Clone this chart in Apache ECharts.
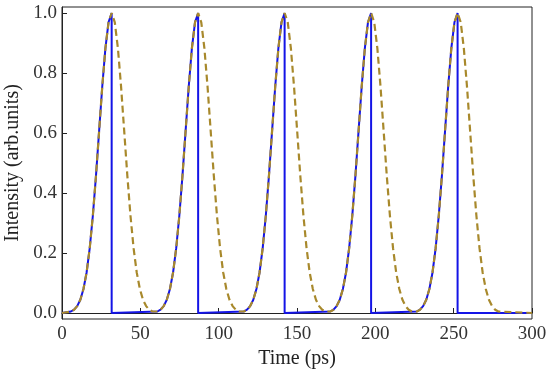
<!DOCTYPE html>
<html>
<head>
<meta charset="utf-8">
<script src="https://cdn.jsdelivr.net/npm/echarts@6/dist/echarts.min.js"></script>
<style>html,body{margin:0;padding:0;background:#fff}#c{width:550px;height:372px}</style>
</head>
<body>
<div id="c"></div>
<script>
// Dashed curve (full pulses)
var dashedTime = [0,
  5.7,7.7,9.7,11.7,13.7,15.7,17.7,19.7,21.7,23.7,25.7,27.7,29.7,31.7,33.7,35.7,37.7,39.7,41.7,43.7,45.7,47.7,49.7,51.7,53.7,55.7,57.7,
  60.9,62.9,64.9,66.9,68.9,70.9,72.9,74.9,76.9,78.9,80.9,82.9,84.9,86.9,88.9,90.9,92.9,94.9,96.9,98.9,100.9,102.9,104.9,106.9,108.9,110.9,112.9,
  116.1,118.1,120.1,122.1,124.1,126.1,128.1,130.1,132.1,134.1,136.1,138.1,140.1,142.1,144.1,146.1,148.1,150.1,152.1,154.1,156.1,158.1,160.1,162.1,164.1,166.1,168.1,
  171.3,173.3,175.3,177.3,179.3,181.3,183.3,185.3,187.3,189.3,191.3,193.3,195.3,197.3,199.3,201.3,203.3,205.3,207.3,209.3,211.3,213.3,215.3,217.3,219.3,221.3,223.3,
  226.5,228.5,230.5,232.5,234.5,236.5,238.5,240.5,242.5,244.5,246.5,248.5,250.5,252.5,254.5,256.5,258.5,260.5,262.5,264.5,266.5,268.5,270.5,272.5,274.5,276.5,278.5,
  300];
var dashedIntensity = [0,
  0.005,0.011,0.023,0.044,0.080,0.135,0.216,0.325,0.458,0.607,0.755,0.882,0.969,1,0.969,0.882,0.755,0.607,0.458,0.325,0.216,0.135,0.080,0.044,0.023,0.011,0.005,
  0.005,0.011,0.023,0.044,0.080,0.135,0.216,0.325,0.458,0.607,0.755,0.882,0.969,1,0.969,0.882,0.755,0.607,0.458,0.325,0.216,0.135,0.080,0.044,0.023,0.011,0.005,
  0.005,0.011,0.023,0.044,0.080,0.135,0.216,0.325,0.458,0.607,0.755,0.882,0.969,1,0.969,0.882,0.755,0.607,0.458,0.325,0.216,0.135,0.080,0.044,0.023,0.011,0.005,
  0.005,0.011,0.023,0.044,0.080,0.135,0.216,0.325,0.458,0.607,0.755,0.882,0.969,1,0.969,0.882,0.755,0.607,0.458,0.325,0.216,0.135,0.080,0.044,0.023,0.011,0.005,
  0.005,0.011,0.023,0.044,0.080,0.135,0.216,0.325,0.458,0.607,0.755,0.882,0.969,1,0.969,0.882,0.755,0.607,0.458,0.325,0.216,0.135,0.080,0.044,0.023,0.011,0.005,
  0];
// Solid curve (rising edge, abrupt cut at peak)
var solidTime = [0,
  5.7,7.7,9.7,11.7,13.7,15.7,17.7,19.7,21.7,23.7,25.7,27.7,29.7,31.7,31.7,
  60.9,62.9,64.9,66.9,68.9,70.9,72.9,74.9,76.9,78.9,80.9,82.9,84.9,86.9,86.9,
  116.1,118.1,120.1,122.1,124.1,126.1,128.1,130.1,132.1,134.1,136.1,138.1,140.1,142.1,142.1,
  171.3,173.3,175.3,177.3,179.3,181.3,183.3,185.3,187.3,189.3,191.3,193.3,195.3,197.3,197.3,
  226.5,228.5,230.5,232.5,234.5,236.5,238.5,240.5,242.5,244.5,246.5,248.5,250.5,252.5,252.5,
  300];
var solidIntensity = [0,
  0.005,0.011,0.023,0.044,0.080,0.135,0.216,0.325,0.458,0.607,0.755,0.882,0.969,1,0,
  0.005,0.011,0.023,0.044,0.080,0.135,0.216,0.325,0.458,0.607,0.755,0.882,0.969,1,0,
  0.005,0.011,0.023,0.044,0.080,0.135,0.216,0.325,0.458,0.607,0.755,0.882,0.969,1,0,
  0.005,0.011,0.023,0.044,0.080,0.135,0.216,0.325,0.458,0.607,0.755,0.882,0.969,1,0,
  0.005,0.011,0.023,0.044,0.080,0.135,0.216,0.325,0.458,0.607,0.755,0.882,0.969,1,0,
  0];
var yTicks = [0, 0.2, 0.4, 0.6, 0.8, 1.0];
var xTicks = [0, 50, 100, 150, 200, 250, 300];

function zip(a, b) { return a.map(function (v, i) { return [v, b[i]]; }); }

var font = 'Liberation Serif';
var chart = echarts.init(document.getElementById('c'), null, { renderer: 'canvas' });
chart.setOption({
  animation: false,
  backgroundColor: '#fff',
  grid: { left: 62, right: 18, top: 7, bottom: 53, containLabel: false, outerBoundsMode: 'none',
    show: true, borderColor: '#222', borderWidth: 1, backgroundColor: 'transparent' },
  xAxis: {
    type: 'value', min: 0, max: 300, interval: 50,
    name: 'Time (ps)', nameLocation: 'middle', nameGap: 26,
    nameTextStyle: { fontFamily: font, fontSize: 20, color: '#222' },
    axisLine: { show: true, lineStyle: { color: '#222', width: 1 } },
    axisTick: { show: true, inside: true, length: 5, lineStyle: { color: '#222' }, customValues: xTicks },
    axisLabel: { fontFamily: font, fontSize: 19, color: '#333', margin: 6, customValues: xTicks },
    splitLine: { show: false }
  },
  yAxis: {
    type: 'value', min: -0.02, max: 1.02,
    name: 'Intensity (arb.units)', nameLocation: 'middle', nameGap: 32, nameRotate: 90,
    nameTextStyle: { fontFamily: font, fontSize: 20, color: '#222' },
    axisLine: { show: true, lineStyle: { color: '#222', width: 1 } },
    axisTick: { show: true, inside: true, length: 5, lineStyle: { color: '#222' }, customValues: yTicks },
    axisLabel: { fontFamily: font, fontSize: 19, color: '#333', margin: 5, customValues: yTicks,
      formatter: function (v) { return v.toFixed(1); } },
    splitLine: { show: false }
  },
  series: [
    {
      type: 'line', data: zip(solidTime, solidIntensity), showSymbol: false, symbol: 'none',
      lineStyle: { color: '#1414e6', width: 2 }, z: 2
    },
    {
      type: 'line', data: zip(dashedTime, dashedIntensity), showSymbol: false, symbol: 'none',
      lineStyle: { color: '#a8892c', width: 2.2, type: [7, 4] }, z: 3
    }
  ]
});
</script>
</body>
</html>
